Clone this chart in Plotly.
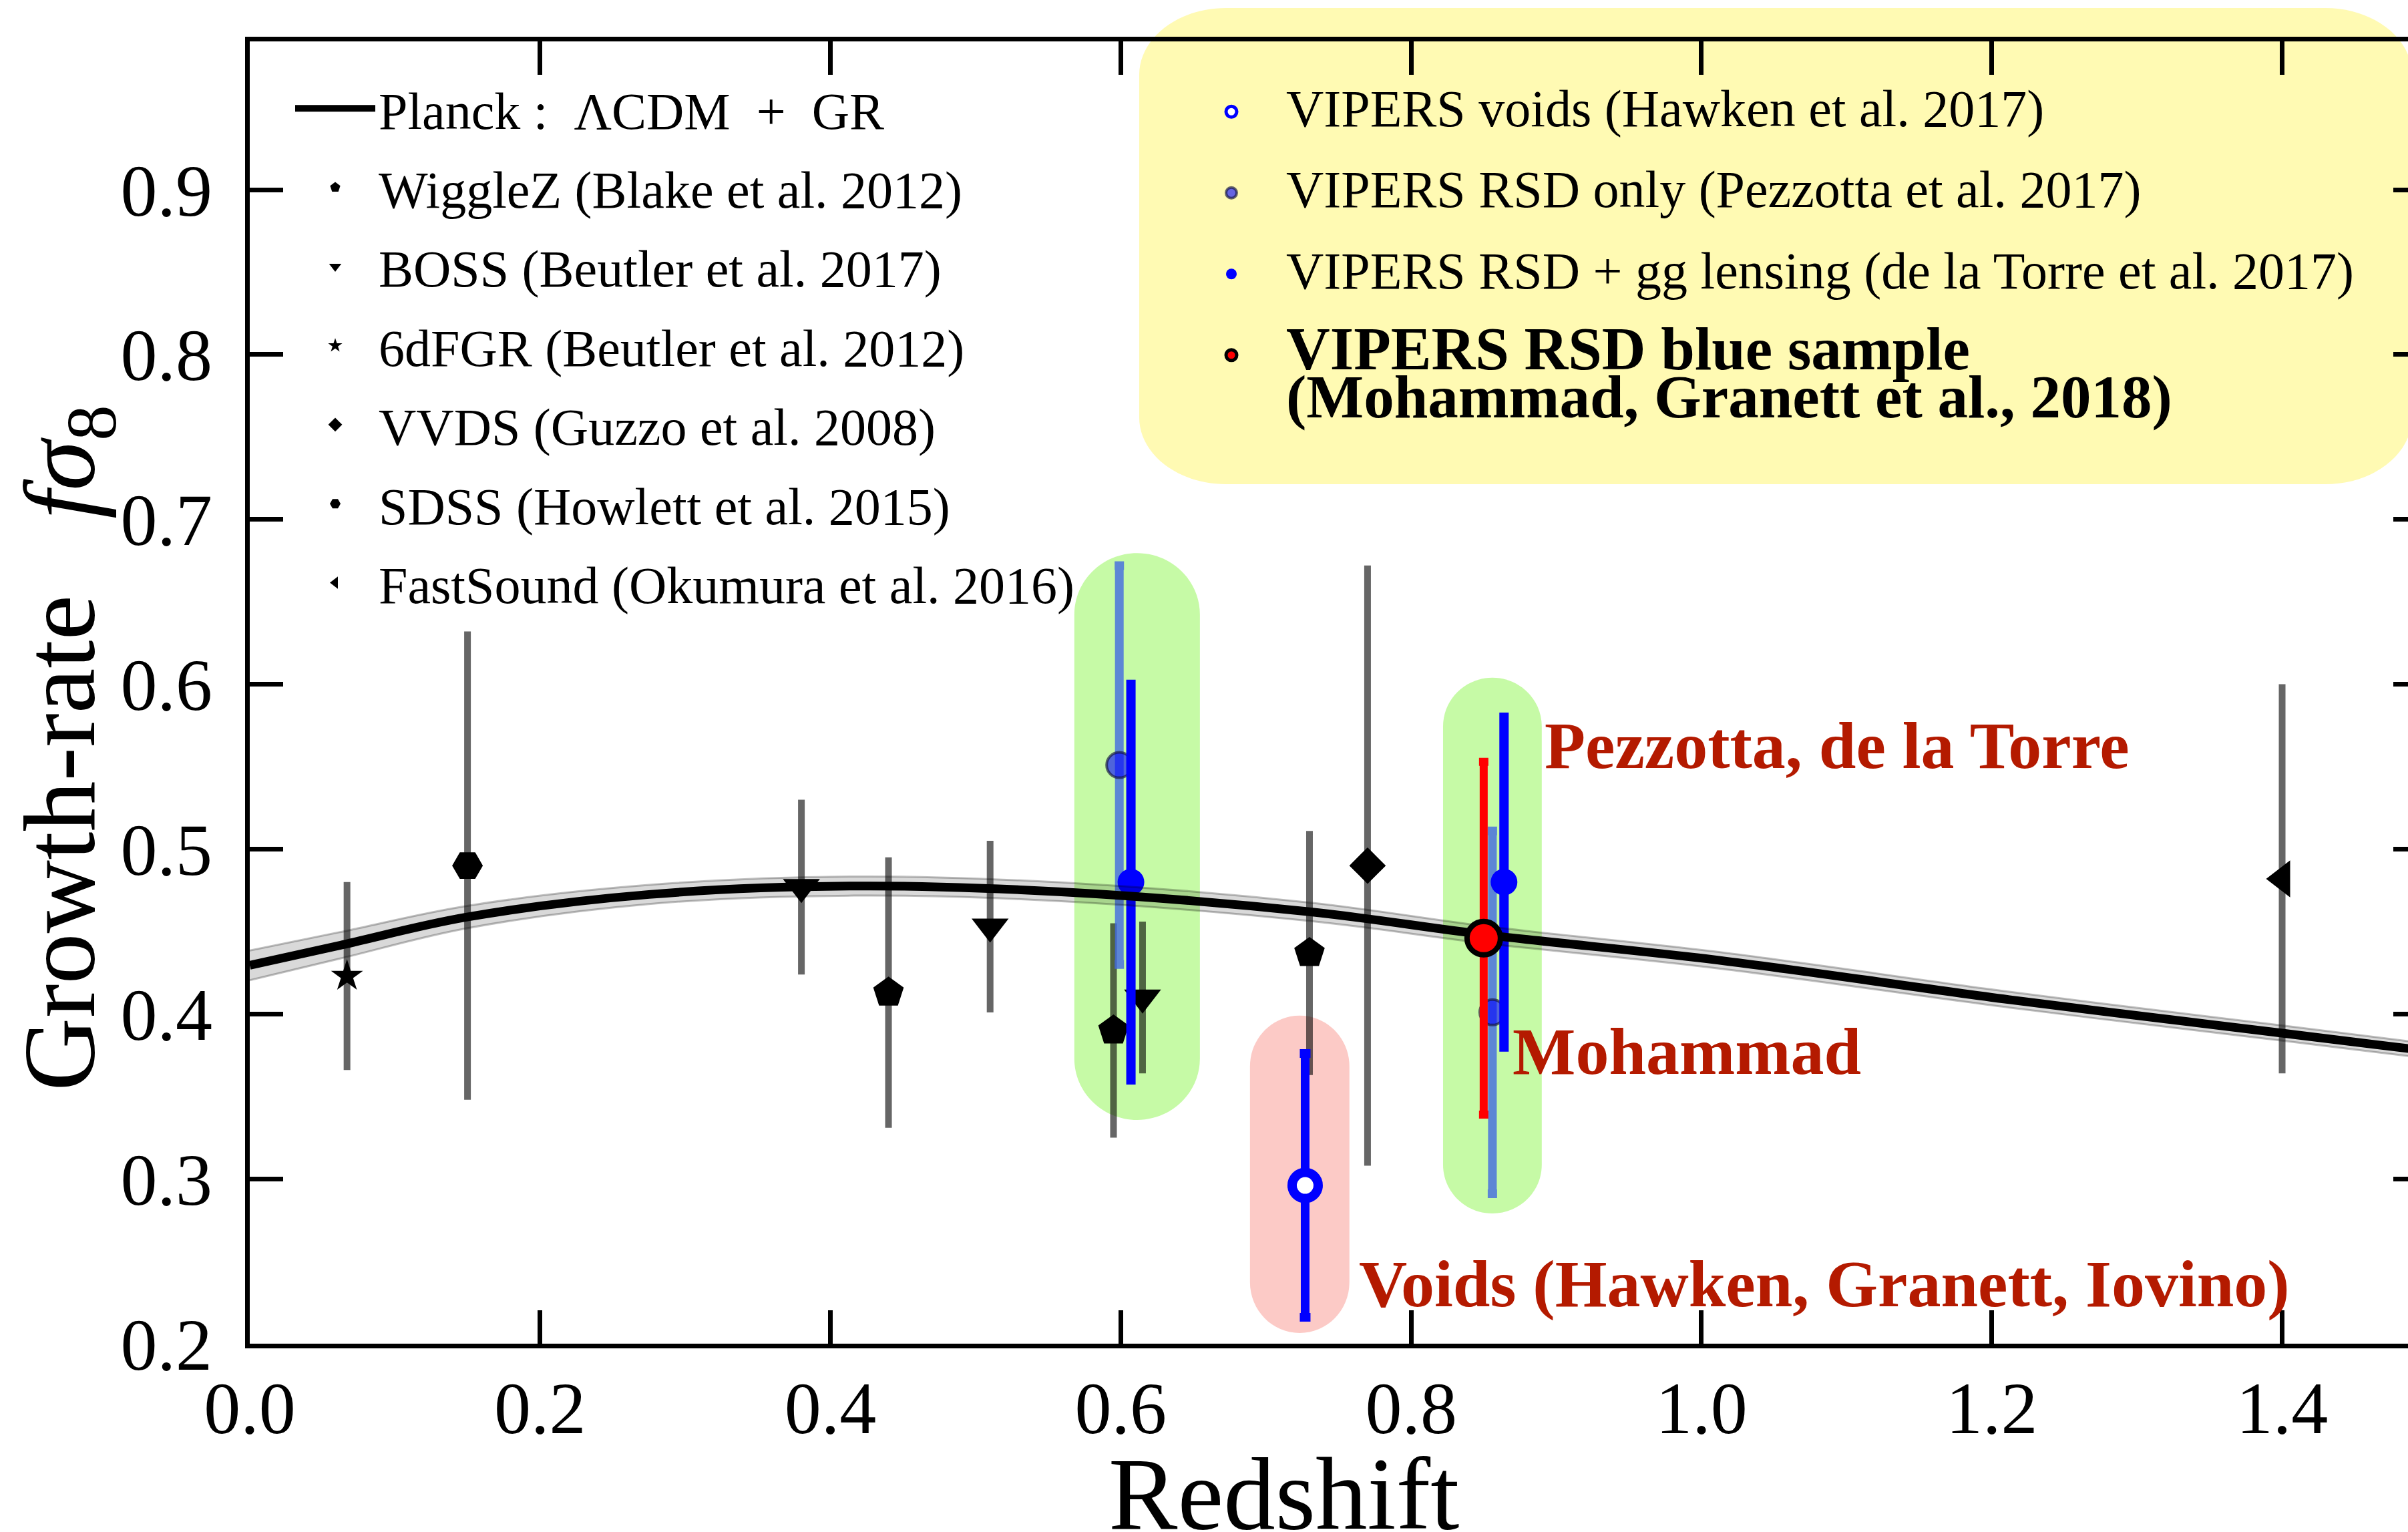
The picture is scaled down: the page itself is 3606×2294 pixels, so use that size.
import plotly.graph_objects as go

# ---------------- data ----------------
# Planck LCDM + GR prediction of f*sigma8(z) and its 1-sigma half-width
z_planck = [0.0, 0.064, 0.149, 0.275, 0.416, 0.557, 0.730, 0.852, 1.012, 1.212, 1.400, 1.500]
fs8_planck = [0.4295, 0.442, 0.4587, 0.4725, 0.4776, 0.4742, 0.462, 0.448, 0.4326, 0.4087, 0.3884, 0.3776]
fs8_planck_err = [0.009, 0.008, 0.0068, 0.0058, 0.0058, 0.0057, 0.0056, 0.0052, 0.005, 0.0048, 0.0046, 0.0045]

# external growth-rate measurements
wigglez_z = [0.44, 0.595, 0.73]
wigglez_fs8 = [0.413, 0.390, 0.437]
wigglez_err = [0.080, 0.063, 0.072]

boss_z = [0.38, 0.51, 0.615]
boss_fs8 = [0.477, 0.453, 0.410]
boss_err = [0.051, 0.050, 0.044]

sixdf_z = [0.067]
sixdf_fs8 = [0.423]
sixdf_err = [0.055]

vvds_z = [0.77]
vvds_fs8 = [0.490]
vvds_err = [0.180]

sdss_z = [0.15]
sdss_fs8 = [0.490]
sdss_err = [0.140]

fastsound_z = [1.40]
fastsound_fs8 = [0.482]
fastsound_err = [0.116]

# VIPERS measurements
voids_z = [0.727]
voids_fs8 = [0.296]
voids_err = [0.080]

pezzotta_z = [0.599, 0.856]
pezzotta_fs8 = [0.551, 0.401]
pezzotta_err = [0.121, 0.110]

delatorre_z = [0.607, 0.864]
delatorre_fs8 = [0.480, 0.480]
delatorre_err = [0.120, 0.100]

mohammad_z = [0.850]
mohammad_fs8 = [0.446]
mohammad_err = [0.107]

x_ticks = [0.0, 0.2, 0.4, 0.6, 0.8, 1.0, 1.2, 1.4]
y_ticks = [0.2, 0.3, 0.4, 0.5, 0.6, 0.7, 0.8, 0.9]

# ---------------- style ----------------
FONT = "Liberation Serif"
GREY_BAR = "rgba(0,0,0,0.6)"
DARK_RED = "#b41a00"
X_RANGE = [0.0, 1.4867]
Y_RANGE = [0.2, 0.99]


def rounded_box(x0, x1, y0, y1, rx, ry):
    """SVG path of a box with elliptical corners (x0<x1, y0<y1)."""
    k = 0.5523
    return (
        f"M{x0 + rx},{y0} L{x1 - rx},{y0} "
        f"C{x1 - rx + k * rx},{y0} {x1},{y0 + ry - k * ry} {x1},{y0 + ry} "
        f"L{x1},{y1 - ry} "
        f"C{x1},{y1 - ry + k * ry} {x1 - rx + k * rx},{y1} {x1 - rx},{y1} "
        f"L{x0 + rx},{y1} "
        f"C{x0 + rx - k * rx},{y1} {x0},{y1 - ry + k * ry} {x0},{y1 - ry} "
        f"L{x0},{y0 + ry} "
        f"C{x0},{y0 + ry - k * ry} {x0 + rx - k * rx},{y0} {x0 + rx},{y0} Z"
    )


fig = go.Figure()


def external(name, z, f, err, symbol, size, rank):
    fig.add_trace(go.Scatter(
        x=z, y=f, mode="markers", name=name,
        marker=dict(symbol=symbol, size=size, color="black", line=dict(width=0)),
        error_y=dict(type="data", array=err, visible=True, color=GREY_BAR,
                     thickness=10, width=5),
        legend="legend", legendgroup=name, legendrank=rank,
    ))


external("WiggleZ (Blake et al. 2012)", wigglez_z, wigglez_fs8, wigglez_err, "pentagon", 48, 2)
external("BOSS (Beutler et al. 2017)", boss_z, boss_fs8, boss_err, "triangle-down", 48, 3)
external("6dFGR (Beutler et al. 2012)", sixdf_z, sixdf_fs8, sixdf_err, "star", 36, 4)
external("VVDS (Guzzo et al. 2008)", vvds_z, vvds_fs8, vvds_err, "diamond", 42, 5)
external("SDSS (Howlett et al. 2015)", sdss_z, sdss_fs8, sdss_err, "hexagon2", 46, 6)
external("FastSound (Okumura et al. 2016)", fastsound_z, fastsound_fs8, fastsound_err, "triangle-left", 48, 7)

L2 = '<span style="font-size:78px">{}</span>'

fig.add_trace(go.Scatter(
    x=voids_z, y=voids_fs8, mode="markers",
    name=L2.format("VIPERS voids (Hawken et al. 2017)"),
    marker=dict(symbol="circle", size=39, color="white", line=dict(color="#0000ff", width=14)),
    error_y=dict(type="data", array=voids_err, visible=True, color="#0000ff", thickness=13, width=8),
    legend="legend2", legendgroup="voids", legendrank=1,
))
fig.add_trace(go.Scatter(
    x=pezzotta_z, y=pezzotta_fs8, mode="markers",
    name=L2.format("VIPERS RSD only (Pezzotta et al. 2017)"),
    marker=dict(symbol="circle", size=38, color="rgba(0,0,255,0.6)",
                line=dict(color="rgba(20,20,60,0.65)", width=4)),
    error_y=dict(type="data", array=pezzotta_err, visible=True, color="rgba(65,105,225,0.8)",
                 thickness=13, width=7),
    legend="legend2", legendgroup="pezzotta", legendrank=2,
))
fig.add_trace(go.Scatter(
    x=delatorre_z, y=delatorre_fs8, mode="markers",
    name=L2.format("VIPERS RSD + gg lensing (de la Torre et al. 2017)"),
    marker=dict(symbol="circle", size=40, color="#0000ff", line=dict(width=0)),
    error_y=dict(type="data", array=delatorre_err, visible=True, color="#0000ff", thickness=14, width=7),
    legend="legend2", legendgroup="delatorre", legendrank=3,
))

# Planck prediction: shaded band and central curve
lower = [f - e for f, e in zip(fs8_planck, fs8_planck_err)]
upper = [f + e for f, e in zip(fs8_planck, fs8_planck_err)]
fig.add_trace(go.Scatter(
    x=z_planck, y=lower, mode="lines", line=dict(color="rgba(0,0,0,0.25)", width=3, shape="spline"),
    showlegend=False, hoverinfo="skip",
))
fig.add_trace(go.Scatter(
    x=z_planck, y=upper, mode="lines", line=dict(color="rgba(0,0,0,0.25)", width=3, shape="spline"),
    fill="tonexty", fillcolor="rgba(0,0,0,0.15)", showlegend=False, hoverinfo="skip",
))
fig.add_trace(go.Scatter(
    x=z_planck, y=fs8_planck, mode="lines",
    name="Planck :  ΛCDM  +  GR",
    line=dict(color="black", width=13, shape="spline"),
    legend="legend", legendgroup="planck", legendrank=1,
))

# new blue-sample measurement, drawn on the overlaid axis so it sits on top
fig.add_trace(go.Scatter(
    x=mohammad_z, y=mohammad_fs8, mode="markers", yaxis="y2",
    name=('<span style="font-size:91px"><b>VIPERS RSD blue sample</b><br>'
          '<b>(Mohammad, Granett et al., 2018)</b></span>'),
    marker=dict(symbol="circle", size=50, color="#ff0000", line=dict(color="black", width=8)),
    error_y=dict(type="data", array=mohammad_err, visible=True, color="#ff0000", thickness=12, width=7),
    legend="legend2", legendgroup="mohammad", legendrank=4,
))

# ---------------- highlight regions ----------------
W_PX, H_PX = 3606, 2294
ML, MR, MT, MB = 374, 0, 62, 282
PW, PH = W_PX - ML - MR, H_PX - MT - MB
y_per_px = (Y_RANGE[1] - Y_RANGE[0]) / PH

shapes = [
    dict(type="path", xref="x", yref="y", layer="below", line=dict(width=0), fillcolor="#c6faa6",
         path=rounded_box(0.568, 0.6545, 0.3357, 0.6796, 0.04325, 92 * y_per_px)),
    dict(type="path", xref="x", yref="y", layer="below", line=dict(width=0), fillcolor="#c6faa6",
         path=rounded_box(0.822, 0.890, 0.279, 0.604, 0.034, 73 * y_per_px)),
    dict(type="path", xref="x", yref="y", layer="below", line=dict(width=0), fillcolor="#fccac6",
         path=rounded_box(0.689, 0.7575, 0.2065, 0.399, 0.03425, 76 * y_per_px)),
    # yellow panel behind the VIPERS legend
    dict(type="path", xref="paper", yref="paper", layer="below", line=dict(width=0), fillcolor="#fffab3",
         path=rounded_box((1706 - ML) / PW, (3612 - ML) / PW,
                          (MT + PH - 725) / PH, (MT + PH - 12) / PH,
                          130 / PW, 100 / PH)),
]

annotations = [
    dict(text="Pezzotta, de la Torre", x=0.891, y=0.5629, xref="x", yref="y",
         xanchor="left", yanchor="middle", showarrow=False,
         font=dict(family=FONT, size=100, color=DARK_RED, weight="bold")),
    dict(text="Mohammad", x=0.869, y=0.3772, xref="x", yref="y",
         xanchor="left", yanchor="middle", showarrow=False,
         font=dict(family=FONT, size=100, color=DARK_RED, weight="bold")),
    dict(text="Voids (Hawken, Granett, Iovino)", x=0.763, y=0.2362, xref="x", yref="y",
         xanchor="left", yanchor="middle", showarrow=False,
         font=dict(family=FONT, size=100, color=DARK_RED, weight="bold")),
    # axis titles
    dict(text="Growth-rate&nbsp;&nbsp;&nbsp;<i>fσ</i><sub>8</sub>", x=(101 - ML) / PW, y=0.457,
         xref="paper", yref="paper", textangle=-90, xanchor="center", yanchor="middle",
         showarrow=False, font=dict(family=FONT, size=152, color="black")),
    dict(text="Redshift", x=0.479, y=-0.1156, xref="paper", yref="paper",
         xanchor="center", yanchor="middle", showarrow=False,
         font=dict(family=FONT, size=155, color="black")),
]

axis_common = dict(
    ticks="inside", ticklen=50, tickwidth=7, tickcolor="black",
    showline=True, linewidth=7, linecolor="black",
    showgrid=False, zeroline=False,
    tickfont=dict(family=FONT, size=110, color="black"),
)

fig.update_layout(
    width=W_PX, height=H_PX, autosize=False,
    margin=dict(l=ML, r=MR, t=MT, b=MB, pad=0),
    paper_bgcolor="white", plot_bgcolor="rgba(0,0,0,0)",
    font=dict(family=FONT, color="black"),
    xaxis=dict(range=X_RANGE, tickvals=x_ticks, ticktext=[f"{v:.1f}" for v in x_ticks],
               mirror="ticks", ticklabelstandoff=-5, **axis_common),
    yaxis=dict(range=Y_RANGE, tickvals=y_ticks, ticktext=[f"{v:.1f}" for v in y_ticks],
               mirror=False, ticklabelstandoff=27, **axis_common),
    yaxis2=dict(range=Y_RANGE, overlaying="y", side="right", tickvals=y_ticks,
                ticks="inside", ticklen=22, tickwidth=7, tickcolor="black",
                showline=False, showgrid=False, zeroline=False, showticklabels=False),
    legend=dict(x=(437 - ML) / PW, y=(MT + PH - 105) / PH, xanchor="left", yanchor="top",
                bgcolor="rgba(0,0,0,0)", borderwidth=0, itemwidth=120,
                font=dict(family=FONT, size=78, color="black"),
                tracegroupgap=14, traceorder="grouped"),
    legend2=dict(x=(1762 - ML) / PW, y=(MT + PH - 125) / PH, xanchor="left", yanchor="top",
                 bgcolor="rgba(0,0,0,0)", borderwidth=0, itemwidth=154, valign="top",
                 font=dict(family=FONT, size=55, color="black"),
                 tracegroupgap=47, traceorder="grouped"),
    shapes=shapes,
    annotations=annotations,
    showlegend=True,
)

fig.write_html("out.html")
